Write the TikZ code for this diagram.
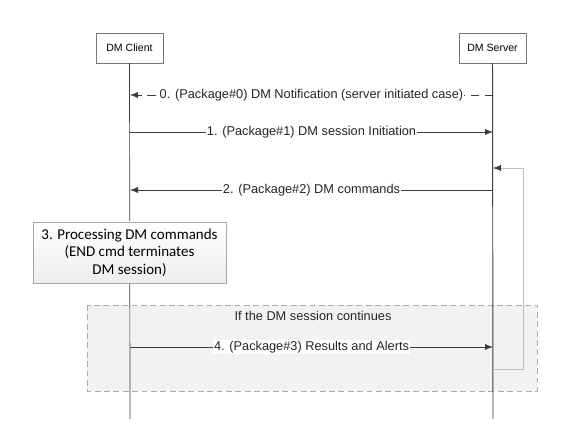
\documentclass[tikz,border=0pt]{standalone}
\usepackage{fontspec}
\setmainfont{Liberation Sans}
\newfontfamily\procfont{Carlito}
\usepackage{tikz}
\usetikzlibrary{arrows.meta}
\usetikzlibrary{positioning}
\definecolor{lgray}{RGB}{60, 60, 60}
\definecolor{boxgray}{RGB}{242, 242, 242}
\tikzset{actor/.style = {draw = lgray!70, fill = white, minimum width = 2.01cm, minimum height = 0.9cm, inner sep = 0, font = \fontsize{9}{10}\selectfont}}
\tikzset{msg/.style = {draw = lgray, -{Latex[length = 2.4mm, width = 1.8mm]}}}
\tikzset{msglabel/.style = {fill = white, inner sep = 0.5pt, text = black!85, font = \fontsize{10.9}{12}\selectfont}}
\tikzset{procbox/.style = {draw = gray!70, top color = white, bottom color = gray!14, align = center, minimum width = 5.79cm, minimum height = 1.83cm, inner sep = 0, font = \procfont\fontsize{12.8}{15}\selectfont}}

\begin{document}
\begin{tikzpicture}[x = 0.03cm, y = -0.03cm]
    \useasboundingbox (0, 0) rectangle (586, 431);
    \draw [dashed, dash pattern = on 5pt off 3pt, draw = gray!65, fill = boxgray] (87, 305) rectangle (537, 391);
    \node [text = black!85, font = \fontsize{10.9}{12}\selectfont] (cond) at (313, 316) {If the DM session continues};

    \node [actor] (client) at (129.5, 48) {DM Client};
    \node [actor] (server) at (492.5, 48) {DM Server};
    \coordinate (clientend) at (130, 419);
    \coordinate (serverend) at (493, 419);
    \draw [lgray, line width = 0.6pt] (client) -- (clientend);
    \draw [lgray, line width = 0.8pt] (server) -- (serverend);

    \foreach \i/\y in {0/95, 1/132, 2/190, 4/347} {
      \coordinate (c\i) at (130, \y);
      \coordinate (s\i) at (493, \y);
    }
    \coordinate (sloop) at (493, 369);
    \coordinate (sback) at (493, 168);

    \node [procbox] (proc) at (129.5, 252.5) {3. Processing DM commands\\(END cmd terminates\\DM session)};

    \draw [msg, dash pattern = on 7pt off 5pt] (s0) -- node [msglabel] {0. (Package\#0) DM Notification (server initiated case)} (c0);
    \draw [msg] (c1) -- node [msglabel] {1. (Package\#1) DM session Initiation} (s1);
    \draw [msg] (s2) -- node [msglabel] {2. (Package\#2) DM commands} (c2);
    \draw [msg] (c4) -- node [msglabel] {4. (Package\#3) Results and Alerts} (s4);
    \draw [gray!50, -{Latex[length = 2.4mm, width = 1.8mm, color = lgray]}] (sloop) -- ++(30, 0) |- (sback);
  \end{tikzpicture}
\end{document}
